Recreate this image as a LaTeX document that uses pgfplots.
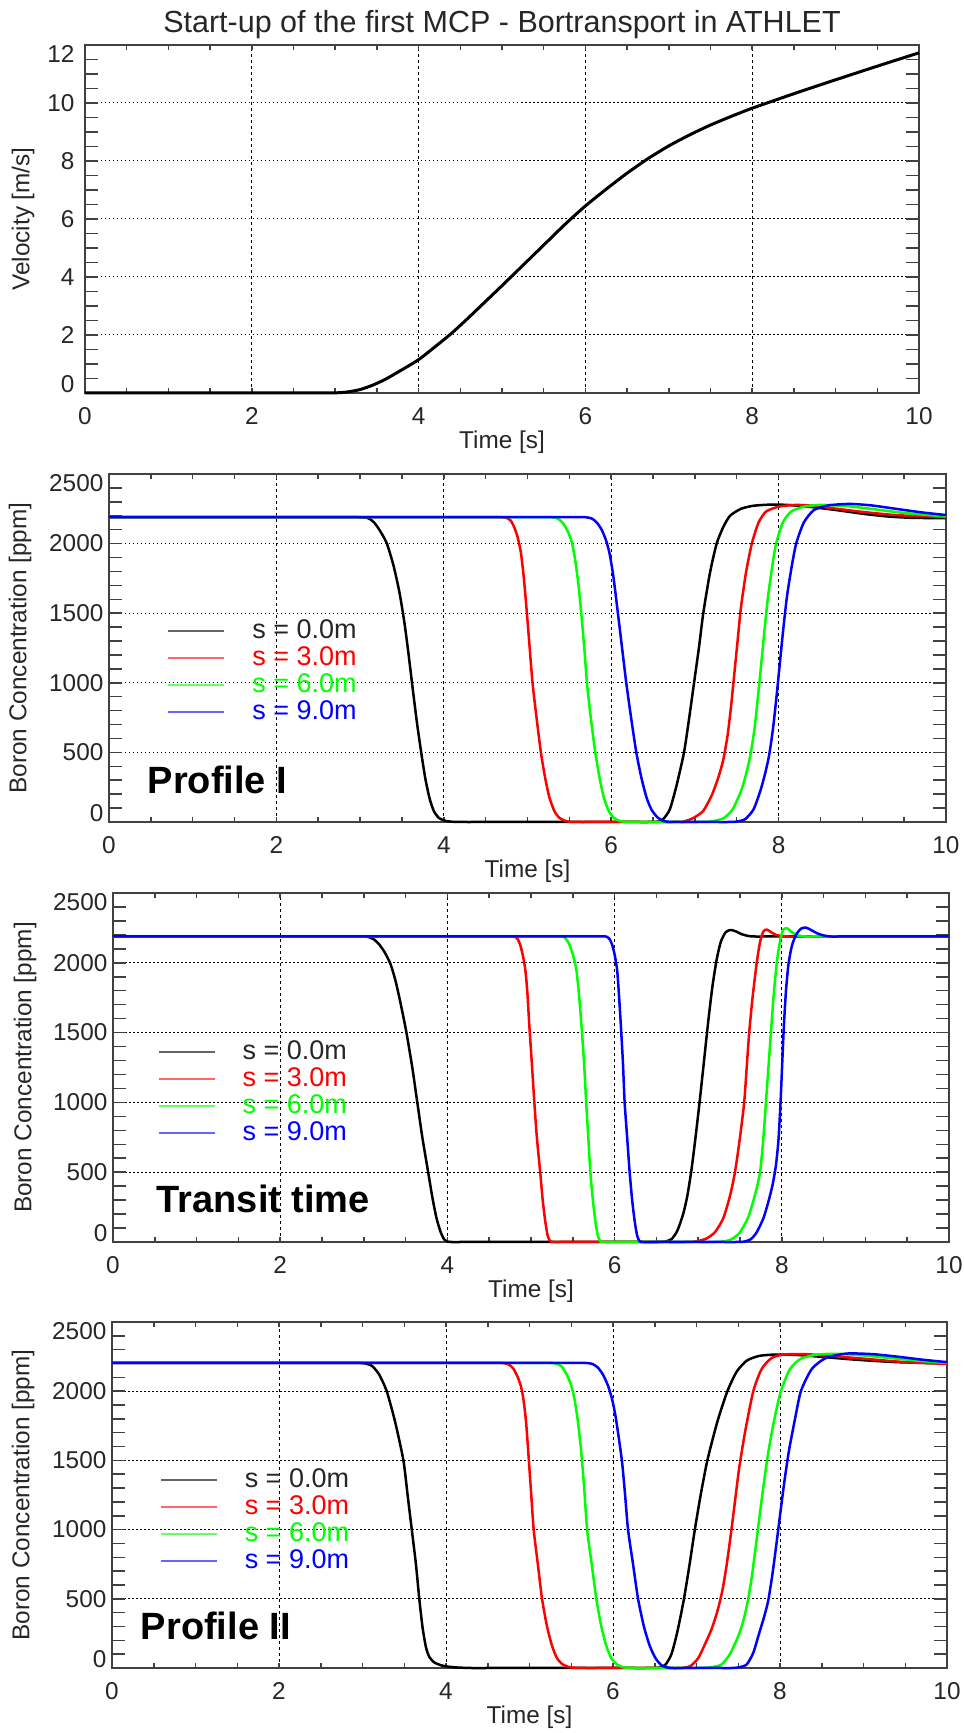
\documentclass[border=0pt]{standalone}
\usepackage{fontspec}
\setmainfont{Liberation Sans}
\usepackage{pgfplots}
\pgfplotsset{compat=1.18}

\pgfplotsset{
  base/.style={
    scale only axis, clip=false,
    xmin=0, xmax=10,
    xtick={0,2,4,6,8,10}, xticklabels={0,2,4,6,8,10},
    minor x tick num=3,
    tick align=inside, tick pos=both,
    axis line style={line width=0.6pt, black!75},
    tick style={line width=0.45pt, black!75},
    major tick length=3.9pt, minor tick length=3.9pt,
    xtick style={/pgfplots/major tick length=1.5pt,/pgfplots/minor tick length=1.5pt},
    xmajorgrids, ymajorgrids,
    x grid style={black, line width=0.3pt, dash pattern=on 0.9pt off 0.9pt},
    y grid style={black, line width=0.3pt, dash pattern=on 0.45pt off 0.75pt},
    tick label style={font=\fontsize{7.3}{8}\selectfont, text=black!85},
    xticklabel style={anchor=center, yshift=-6.9pt},
    yticklabel style={anchor=east, inner sep=0pt, xshift=-1.5pt},
    label style={font=\fontsize{7.3}{8}\selectfont, text=black!85},
    xlabel={Time [s]},
    xlabel style={at={(axis description cs:0.5,-0.141)}, anchor=center},
  },
  boron/.style={
    base,
    ymin=0, ymax=2500, ytick={0,500,1000,1500,2000,2500},
    yticklabels={{\raisebox{2.6pt}[\height][\depth]{0}},500,1000,1500,2000,{\raisebox{-2.6pt}[\height][\depth]{2500}}},
    minor y tick num=4,
    ylabel={Boron Concentration [ppm]},
    legend cell align=left,
    legend image code/.code={\draw[##1, line width=0.45pt, opacity=0.6] (0pt,0pt) -- (16.8pt,0pt); \path[draw=none, fill=none] (0pt,0pt) -- (25.2pt,0pt);},
    legend style={draw=none, fill=none, inner sep=0pt, outer sep=0pt, row sep=0pt, column sep=0pt,
      font=\fontsize{8.1}{9}\selectfont, nodes={inner sep=0pt, text height=6.3pt, text depth=1.8pt}},
  },
  bl/.style={black, line width=0.75pt, line join=round, smooth, tension=0.4},
  rd/.style={red, line width=0.75pt, line join=round, smooth, tension=0.4},
  gn/.style={green, line width=0.75pt, line join=round, smooth, tension=0.4},
  bu/.style={blue, line width=0.75pt, line join=round, smooth, tension=0.4},
}

\begin{document}
\begin{tikzpicture}
\path[use as bounding box] (0,0) rectangle (289.2pt,519.9pt);

% ---------------- Plot 1: velocity
\begin{axis}[base, at={(25.5pt,402pt)}, anchor=south west, width=250.2pt, height=104.4pt,
  ymin=0, ymax=12, ytick={0,2,4,6,8,10,12},
  yticklabels={{\raisebox{2.6pt}[\height][\depth]{0}},2,4,6,8,10,{\raisebox{-2.6pt}[\height][\depth]{12}}},
  minor y tick num=3,
  yticklabel style={xshift=-1.5pt},
  ylabel={Velocity [m/s]},
  ylabel style={at={(axis description cs:-0.0743,0.5)}, anchor=center},
  every axis title shift=0pt,
  title={Start-up of the first MCP - Bortransport in ATHLET},
  title style={at={(axis description cs:0.5,1.0345)}, anchor=base, yshift=0pt, font=\fontsize{9.15}{10}\selectfont, inner sep=0pt, text=black!85},
]
\addplot[black, line width=0.9pt, line join=round, smooth, tension=0.4] coordinates {
(0,0) (1.5,0) (2.3,0) (2.7,0) (2.9,0) (3.0,0.005) (3.1,0.02) (3.2,0.06) (3.3,0.12) (3.45,0.27)
(3.6,0.47) (3.8,0.8) (4.0,1.15) (4.2,1.6) (4.4,2.07) (4.6,2.6) (4.8,3.15) (5.0,3.7) (5.25,4.4)
(5.5,5.1) (5.75,5.8) (6.0,6.45) (6.25,7.03) (6.5,7.58) (6.75,8.08) (7.0,8.52) (7.25,8.9) (7.5,9.24)
(7.75,9.54) (8.0,9.82) (8.5,10.32) (9.0,10.8) (9.5,11.27) (10,11.73)};
\end{axis}

% ---------------- Plot 2: Profile I
\begin{axis}[boron, at={(32.7pt,273.3pt)}, anchor=south west, width=251.1pt, height=104.4pt,
  ylabel style={at={(axis description cs:-0.1063,0.5)}, anchor=center},
  legend style={at={(axis cs:0.7,1080)}, anchor=west},
]
\addplot[bl] coordinates {
(0,2190) (1.5,2190) (2.3,2190) (2.7,2190) (2.9,2190) (3.0,2189) (3.1,2182) (3.17,2150) (3.24,2090)
(3.32,2000) (3.40,1840) (3.47,1650) (3.53,1430) (3.58,1200) (3.63,950) (3.68,710) (3.73,500)
(3.78,310) (3.83,170) (3.88,80) (3.94,30) (4.02,8) (4.12,1) (4.25,0) (4.45,0) (4.85,0) (5.65,0)
(6.05,0) (6.3,0) (6.45,0) (6.55,2) (6.62,20) (6.7,90) (6.78,260) (6.87,500) (6.93,740) (6.99,1000)
(7.05,1260) (7.10,1500) (7.18,1790) (7.26,2000) (7.34,2120) (7.42,2200) (7.55,2250) (7.7,2272)
(7.9,2280) (8.1,2278) (8.4,2262) (8.7,2240) (9.0,2215) (9.3,2195) (9.6,2185) (10,2183)};
\addlegendentry{\textcolor{black!85}{s = 0.0m}}
\addplot[rd] coordinates {
(0,2190) (1.5,2190) (3.1,2190) (3.9,2190) (4.3,2190) (4.5,2190) (4.62,2190) (4.7,2189) (4.75,2184)
(4.8,2165) (4.84,2120) (4.88,2050) (4.92,1940) (4.955,1760) (4.99,1520) (5.025,1260) (5.06,1000)
(5.11,740) (5.16,500) (5.21,320) (5.26,180) (5.32,80) (5.38,30) (5.45,8) (5.52,1) (5.62,0) (5.8,0)
(6.2,0) (6.55,0) (6.75,0) (6.85,2) (6.93,15) (7.0,35) (7.1,80) (7.2,190) (7.28,320) (7.34,450)
(7.39,620) (7.43,820) (7.47,1060) (7.51,1300) (7.55,1540) (7.61,1790) (7.68,2000) (7.76,2150)
(7.85,2230) (8.0,2265) (8.2,2278) (8.4,2272) (8.7,2250) (9.0,2228) (9.4,2205) (10,2190)};
\addlegendentry{\textcolor{red}{s = 3.0m}}
\addplot[gn] coordinates {
(0,2190) (2,2190) (3.8,2190) (4.6,2190) (5.0,2190) (5.2,2190) (5.3,2189) (5.36,2180) (5.42,2150)
(5.48,2090) (5.53,2010) (5.57,1880) (5.61,1700) (5.645,1480) (5.68,1240) (5.71,1000) (5.76,730)
(5.81,500) (5.86,320) (5.91,180) (5.97,80) (6.03,30) (6.1,8) (6.18,1) (6.3,0) (6.5,0) (6.8,0)
(7.05,0) (7.17,2) (7.25,10) (7.35,30) (7.45,90) (7.55,220) (7.61,340) (7.66,470) (7.71,660)
(7.75,880) (7.79,1120) (7.83,1370) (7.87,1600) (7.92,1820) (7.97,2000) (8.05,2150) (8.15,2230)
(8.3,2265) (8.5,2278) (8.8,2270) (9.1,2250) (9.5,2220) (10,2195)};
\addlegendentry{\textcolor{green}{s = 6.0m}}
\addplot[bu] coordinates {
(0,2190) (2,2190) (4,2190) (5.0,2190) (5.4,2190) (5.6,2190) (5.7,2189) (5.77,2180) (5.83,2150)
(5.89,2095) (5.94,2020) (5.98,1930) (6.02,1790) (6.05,1650) (6.08,1500) (6.13,1250) (6.18,1000)
(6.24,740) (6.30,500) (6.36,320) (6.42,180) (6.48,90) (6.55,35) (6.62,8) (6.7,1) (6.8,0) (7.0,0)
(7.25,0) (7.4,0) (7.5,3) (7.6,20) (7.7,90) (7.78,220) (7.84,350) (7.89,490) (7.935,680) (7.975,900)
(8.015,1140) (8.055,1380) (8.1,1620) (8.155,1830) (8.21,2000) (8.3,2150) (8.42,2240) (8.6,2275)
(8.85,2285) (9.1,2275) (9.4,2250) (9.7,2225) (10,2205)};
\addlegendentry{\textcolor{blue}{s = 9.0m}}
\node[anchor=base west, inner sep=0pt, font=\bfseries\fontsize{11.4}{12}\selectfont] at (axis cs:0.454,206) {Profile I};
\end{axis}

% ---------------- Plot 3: Transit time
\begin{axis}[boron, at={(33.9pt,147.3pt)}, anchor=south west, width=250.8pt, height=104.7pt,
  ylabel style={at={(axis description cs:-0.1053,0.5)}, anchor=center},
  legend style={at={(axis cs:0.537,1072)}, anchor=west},
]
\addplot[bl] coordinates {
(0,2190) (1.5,2190) (2.3,2190) (2.7,2190) (2.9,2190) (3.0,2189) (3.06,2184) (3.12,2168) (3.18,2135)
(3.25,2075) (3.32,1990) (3.38,1870) (3.44,1710) (3.51,1500) (3.58,1250) (3.64,1000) (3.70,750)
(3.77,500) (3.82,320) (3.87,170) (3.92,70) (3.96,20) (4.0,3) (4.05,0) (4.15,0) (4.4,0) (5.0,0)
(5.8,0) (6.2,0) (6.4,0) (6.52,0) (6.6,3) (6.68,20) (6.75,80) (6.82,200) (6.87,330) (6.92,520)
(6.97,760) (7.02,1020) (7.07,1300) (7.12,1580) (7.17,1830) (7.22,2020) (7.27,2150) (7.33,2220)
(7.39,2235) (7.45,2225) (7.52,2205) (7.6,2192) (7.7,2188) (7.9,2190) (8.3,2190) (9.1,2190) (10,2190)};
\addlegendentry{\textcolor{black!85}{s = 0.0m}}
\addplot[rd] coordinates {
(0,2190) (1.6,2190) (3.2,2190) (4.0,2190) (4.4,2190) (4.6,2190) (4.72,2190) (4.8,2188) (4.84,2170)
(4.87,2130) (4.9,2060) (4.93,1960) (4.955,1800) (4.98,1550) (5.01,1280) (5.04,1000) (5.07,750)
(5.11,500) (5.14,300) (5.17,150) (5.2,45) (5.23,5) (5.27,0) (5.35,0) (5.55,0) (5.95,0) (6.6,0)
(6.85,0) (6.95,2) (7.02,10) (7.1,25) (7.2,70) (7.3,170) (7.38,330) (7.44,500) (7.5,750) (7.55,1000)
(7.58,1250) (7.61,1500) (7.65,1750) (7.70,2000) (7.74,2150) (7.78,2225) (7.82,2238) (7.87,2220)
(7.93,2200) (8.0,2192) (8.1,2188) (8.3,2190) (8.7,2190) (9.4,2190) (10,2190)};
\addlegendentry{\textcolor{red}{s = 3.0m}}
\addplot[gn] coordinates {
(0,2190) (2,2190) (3.8,2190) (4.6,2190) (5.0,2190) (5.2,2190) (5.3,2190) (5.38,2188) (5.42,2170)
(5.46,2130) (5.5,2060) (5.54,1960) (5.57,1800) (5.6,1580) (5.635,1280) (5.66,1000) (5.685,750)
(5.71,500) (5.74,300) (5.77,150) (5.8,45) (5.83,5) (5.87,0) (5.95,0) (6.15,0) (6.55,0) (7.0,0)
(7.2,0) (7.3,3) (7.4,20) (7.5,70) (7.6,180) (7.68,340) (7.74,500) (7.78,750) (7.81,1000) (7.84,1250)
(7.87,1500) (7.9,1750) (7.94,2000) (7.98,2160) (8.02,2240) (8.07,2245) (8.13,2215) (8.2,2195)
(8.3,2188) (8.5,2190) (9.0,2190) (10,2190)};
\addlegendentry{\textcolor{green}{s = 6.0m}}
\addplot[bu] coordinates {
(0,2190) (2,2190) (4,2190) (5.0,2190) (5.5,2190) (5.72,2190) (5.83,2190) (5.9,2188) (5.94,2170)
(5.97,2130) (6.0,2060) (6.03,1950) (6.05,1790) (6.075,1550) (6.1,1280) (6.12,1000) (6.15,750)
(6.18,500) (6.21,300) (6.24,150) (6.27,45) (6.3,5) (6.34,0) (6.42,0) (6.6,0) (7.0,0) (7.3,0)
(7.45,0) (7.55,3) (7.63,20) (7.7,70) (7.78,170) (7.84,290) (7.89,410) (7.93,550) (7.96,730)
(7.985,1000) (8.005,1280) (8.025,1550) (8.05,1800) (8.08,1990) (8.12,2120) (8.17,2200) (8.23,2245)
(8.29,2252) (8.35,2235) (8.42,2212) (8.5,2196) (8.6,2188) (8.8,2190) (9.3,2190) (10,2190)};
\addlegendentry{\textcolor{blue}{s = 9.0m}}
\node[anchor=base west, inner sep=0pt, font=\bfseries\fontsize{11.4}{12}\selectfont] at (axis cs:0.514,210) {Transit time};
\end{axis}

% ---------------- Plot 4: Profile II
\begin{axis}[boron, at={(33.6pt,19.5pt)}, anchor=south west, width=250.5pt, height=103.8pt,
  ylabel style={at={(axis description cs:-0.1066,0.5)}, anchor=center},
  legend style={at={(axis cs:0.575,1064)}, anchor=west},
]
\addplot[bl] coordinates {
(0,2205) (1.5,2205) (2.3,2205) (2.7,2205) (2.9,2205) (3.0,2203) (3.06,2196) (3.12,2180) (3.2,2120)
(3.29,2000) (3.39,1780) (3.49,1500) (3.54,1250) (3.59,1000) (3.64,750) (3.68,500) (3.72,290)
(3.76,150) (3.8,80) (3.86,40) (3.95,18) (4.05,8) (4.15,3) (4.3,0) (4.5,0) (5.0,0) (5.8,0) (6.2,0)
(6.4,0) (6.5,1) (6.57,5) (6.63,25) (6.7,100) (6.77,260) (6.85,500) (6.92,760) (6.98,1000)
(7.05,1250) (7.13,1500) (7.25,1780) (7.37,2000) (7.48,2140) (7.6,2220) (7.75,2255) (7.95,2265)
(8.2,2262) (8.5,2248) (8.9,2228) (9.4,2210) (10,2200)};
\addlegendentry{\textcolor{black!85}{s = 0.0m}}
\addplot[rd] coordinates {
(0,2205) (1.5,2205) (3.1,2205) (3.9,2205) (4.3,2205) (4.5,2205) (4.62,2205) (4.7,2202) (4.76,2190)
(4.81,2160) (4.86,2100) (4.9,2030) (4.93,1930) (4.96,1770) (4.99,1520) (5.02,1260) (5.05,1000)
(5.1,750) (5.15,500) (5.21,300) (5.27,160) (5.33,70) (5.4,25) (5.48,6) (5.56,1) (5.66,0) (5.85,0)
(6.25,0) (6.6,0) (6.77,0) (6.86,3) (6.93,15) (7.02,70) (7.1,170) (7.18,280) (7.25,410) (7.31,560)
(7.36,740) (7.41,960) (7.46,1200) (7.51,1440) (7.58,1700) (7.68,2000) (7.78,2160) (7.9,2240)
(8.05,2265) (8.3,2268) (8.6,2255) (9.0,2235) (9.5,2210) (10,2198)};
\addlegendentry{\textcolor{red}{s = 3.0m}}
\addplot[gn] coordinates {
(0,2205) (2,2205) (3.8,2205) (4.6,2205) (5.0,2205) (5.18,2205) (5.28,2203) (5.34,2195) (5.39,2175)
(5.45,2115) (5.5,2040) (5.54,1940) (5.58,1780) (5.62,1560) (5.655,1300) (5.69,1000) (5.745,750)
(5.80,500) (5.86,300) (5.92,160) (5.98,70) (6.05,25) (6.12,6) (6.2,1) (6.3,0) (6.5,0) (6.8,0)
(7.02,0) (7.12,2) (7.2,8) (7.3,25) (7.4,100) (7.5,230) (7.56,340) (7.61,470) (7.66,650) (7.71,880)
(7.76,1120) (7.81,1350) (7.86,1560) (7.93,1790) (8.01,2000) (8.12,2160) (8.25,2235) (8.45,2265)
(8.7,2270) (9.0,2258) (9.4,2235) (9.8,2212) (10,2205)};
\addlegendentry{\textcolor{green}{s = 6.0m}}
\addplot[bu] coordinates {
(0,2205) (2,2205) (4,2205) (5.0,2205) (5.4,2205) (5.6,2205) (5.7,2203) (5.76,2195) (5.82,2170)
(5.88,2120) (5.94,2040) (5.99,1940) (6.03,1820) (6.07,1660) (6.11,1480) (6.145,1250) (6.18,1000)
(6.24,750) (6.30,500) (6.37,300) (6.44,160) (6.51,70) (6.58,20) (6.65,4) (6.72,0) (6.85,0) (7.05,0)
(7.3,0) (7.42,0) (7.5,4) (7.6,25) (7.68,110) (7.75,250) (7.81,370) (7.86,490) (7.91,680) (7.96,910)
(8.01,1150) (8.06,1380) (8.11,1580) (8.18,1800) (8.25,2000) (8.38,2160) (8.55,2240) (8.8,2272)
(9.1,2268) (9.4,2250) (9.7,2228) (10,2210)};
\addlegendentry{\textcolor{blue}{s = 9.0m}}
\node[anchor=base west, inner sep=0pt, font=\bfseries\fontsize{11.4}{12}\selectfont] at (axis cs:0.339,207) {Profile II};
\end{axis}
\end{tikzpicture}
\end{document}
